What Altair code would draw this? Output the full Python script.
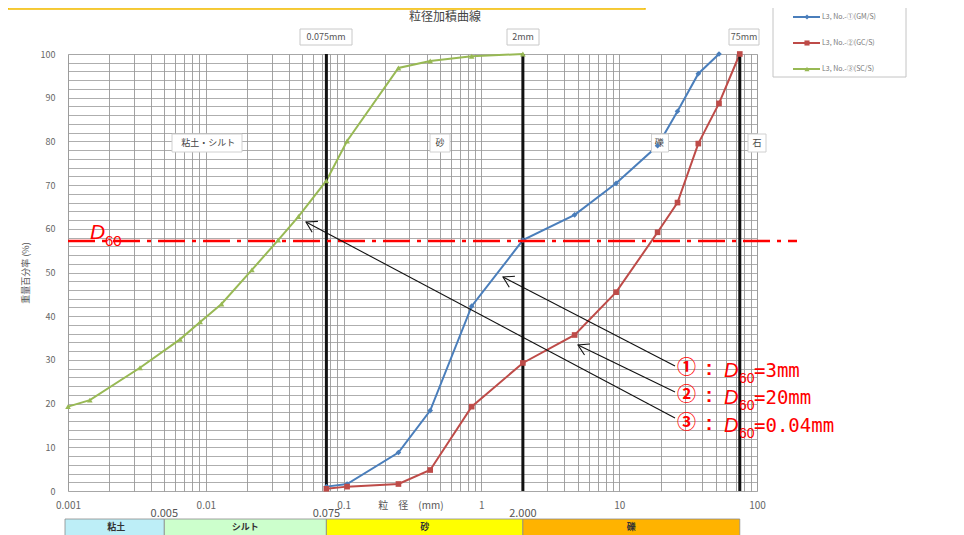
import math
import altair as alt
import pandas as pd

# ---------------- data ----------------
series_names = ["L3, No.-①(GM/S)", "L3, No.-②(GC/S)", "L3, No.-③(SC/S)"]
series_colors = ["#4a7ebb", "#be4b48", "#98b954"]
series_shapes = ["diamond", "square", "triangle-up"]

blue_size = [0.075, 0.106, 0.25, 0.425, 0.85, 2, 4.75, 9.5, 19, 26.5, 37.5, 53]
blue_pct = [1.0, 1.6, 8.8, 18.4, 42.3, 57.4, 63.2, 70.4, 79.0, 86.9, 95.5, 100]
red_size = [0.075, 0.106, 0.25, 0.425, 0.85, 2, 4.75, 9.5, 19, 26.5, 37.5, 53, 75]
red_pct = [0.5, 1.0, 1.6, 4.8, 19.3, 29.3, 35.7, 45.5, 59.2, 66.0, 79.5, 88.7, 100]
green_size = [0.001, 0.00144, 0.00333, 0.0065, 0.0091, 0.013, 0.0216, 0.0335, 0.047,
              0.075, 0.106, 0.25, 0.425, 0.85, 2]
green_pct = [19.3, 20.8, 28.2, 34.7, 38.7, 42.8, 50.6, 57.4, 62.8,
             71.0, 80.1, 96.8, 98.4, 99.5, 100]

boundary_mm = [0.075, 2, 75]
boundary_top_labels = ["0.075mm", "2mm", "75mm"]
class_names = ["粘土", "シルト", "砂", "礫"]
class_from = [0.001, 0.005, 0.075, 2]
class_to = [0.005, 0.075, 2, 75]
class_colors = ["#bdeef7", "#ccffcc", "#ffff00", "#ffb300"]
class_edge_labels = ["0.005", "0.075", "2.000"]
class_edge_mm = [0.005, 0.075, 2]
region_labels = ["粘土・シルト", "砂", "礫", "石"]
region_mm = [0.0104, 0.5, 19.5, 100]
d60_pct = 57.2
ann_nums = ["①", "②", "③"]
ann_vals = ["=3mm", "=20mm", "=0.04mm"]

# ---------------- layout helpers (annotation placement only) ----------------
PL, PT, W, H = 60, 46, 689, 437
X0 = 8 + PL
Y0 = 8 + PT + H


def px2x(px):
    return 10 ** ((px - X0) / W * 5 - 3)


def px2y(py):
    return (Y0 - py) / H * 100


XS = alt.Scale(type="log", domain=[0.001, 100], nice=False)
YS = alt.Scale(domain=[0, 100], nice=False, zero=False)
FONT = "Noto Sans CJK JP"

xgrid = []
for e in range(-3, 2):
    for i in range(1, 10):
        xgrid.append(round(i * 10 ** e, 6))
xgrid.append(100)
ygrid = list(range(0, 101, 2))

AX = alt.Axis(
    values=xgrid, grid=True, gridColor="#8c8c8c", gridWidth=0.8, ticks=False, domain=False,
    labelExpr="abs(log(datum.value)/LN10 - round(log(datum.value)/LN10)) < 0.001 ? format(datum.value, '~g') : ''",
    labelFontSize=10, labelColor="#666", labelPadding=9, labelFont=FONT,
    labelOverlap=False, labelFlush=False, title=None)
AY = alt.Axis(
    values=ygrid, grid=True, gridColor="#999999", gridWidth=0.8, ticks=False, domain=False,
    labelExpr="datum.value % 10 == 0 ? datum.label : ''",
    labelFontSize=9, labelColor="#666", labelPadding=13, labelFont=FONT, labelOverlap=False,
    title="重量百分率 (%)", titleFont=FONT, titleFontSize=9, titleColor="#555",
    titleFontWeight="normal", titlePadding=10)


def ex(f="x"):
    return alt.X(f"{f}:Q", scale=XS, axis=AX)


def ey(f="y"):
    return alt.Y(f"{f}:Q", scale=YS, axis=AY)


# ---------------- main data ----------------
rows = []
for nm, xs, ys in zip(series_names, [blue_size, red_size, green_size], [blue_pct, red_pct, green_pct]):
    for a, b in zip(xs, ys):
        rows.append({"x": a, "y": b, "s": nm})
df = pd.DataFrame(rows)

color = alt.Color("s:N", scale=alt.Scale(domain=series_names, range=series_colors), legend=None)
shape = alt.Shape("s:N", scale=alt.Scale(domain=series_names, range=series_shapes), legend=None)

lines = alt.Chart(df).mark_line(strokeWidth=2).encode(x=ex(), y=ey(), color=color, detail="s:N")
points = alt.Chart(df).mark_point(filled=True, size=32, opacity=1).encode(
    x=ex(), y=ey(), color=color, shape=shape)

# thick boundary lines
bdf = pd.DataFrame({"x": boundary_mm, "y": [0] * 3, "y2": [100] * 3, "t": boundary_top_labels})
brules = alt.Chart(bdf).mark_rule(color="#111", strokeWidth=3).encode(x=ex(), y=ey(), y2="y2:Q")

# top boundary label boxes
box_c = [326, 523, 744]
box_w = [52, 32, 30]
tb = pd.DataFrame({
    "x": [px2x(c - w / 2) for c, w in zip(box_c, box_w)],
    "x2": [px2x(c + w / 2) for c, w in zip(box_c, box_w)],
    "y": [px2y(29)] * 3, "y2": [px2y(45)] * 3,
    "xc": [px2x(c) for c in box_c], "yc": [px2y(37)] * 3, "t": boundary_top_labels})
tbox = alt.Chart(tb).mark_rect(fill="white", stroke="#c8c8c8", strokeWidth=1).encode(
    x=ex(), x2="x2:Q", y=ey(), y2="y2:Q")
ttxt = alt.Chart(tb).mark_text(font=FONT, fontSize=9, color="#555", baseline="middle").encode(
    x=ex("xc"), y=ey("yc"), text="t:N")

# region label boxes inside plot
reg_c = [207, 440, 660, 757]
reg_w = [70, 20, 17, 18]
rg = pd.DataFrame({
    "x": [px2x(c - w / 2) for c, w in zip(reg_c, reg_w)],
    "x2": [px2x(c + w / 2) for c, w in zip(reg_c, reg_w)],
    "y": [px2y(134)] * 4, "y2": [px2y(152)] * 4,
    "xc": region_mm, "yc": [px2y(143)] * 4, "t": region_labels})
rbox = alt.Chart(rg).mark_rect(fill="white", stroke="#d0d0d0", strokeWidth=1).encode(
    x=ex(), x2="x2:Q", y=ey(), y2="y2:Q")
rtxt = alt.Chart(rg).mark_text(font=FONT, fontSize=9, color="#444", baseline="middle").encode(
    x=ex("xc"), y=ey("yc"), text="t:N")

# title
title = alt.Chart(pd.DataFrame({"x": [px2x(445)], "y": [px2y(17)], "t": ["粒径加積曲線"]})).mark_text(
    font=FONT, fontSize=12, color="#444", baseline="middle").encode(x=ex(), y=ey(), text="t:N")

# yellow note strip at the very top
ystrip = alt.Chart(pd.DataFrame({"x": [px2x(8)], "x2": [px2x(645)], "y": [px2y(-4)], "y2": [px2y(9)]})).mark_rect(
    fill="#fff7c2", stroke="#f2bb00", strokeWidth=1.5).encode(x=ex(), x2="x2:Q", y=ey(), y2="y2:Q")

# class bar
cdf = pd.DataFrame({"x": [px2x(65)] + class_from[1:], "x2": class_to, "y": [px2y(519)] * 4,
                    "y2": [px2y(548)] * 4, "c": class_colors, "t": class_names,
                    "xc": [10 ** ((math.log10(max(a, px2x(65))) + math.log10(b)) / 2) for a, b in zip(class_from, class_to)],
                    "yc": [px2y(527)] * 4})
cbar = alt.Chart(cdf).mark_rect(stroke="#8a8a8a", strokeWidth=0.8).encode(
    x=ex(), x2="x2:Q", y=ey(), y2="y2:Q", fill=alt.Fill("c:N", scale=None))
ctxt = alt.Chart(cdf).mark_text(font=FONT, fontSize=9, fontWeight="bold", color="#333", baseline="middle").encode(
    x=ex("xc"), y=ey("yc"), text="t:N")
edf = pd.DataFrame({"x": class_edge_mm, "y": [px2y(514)] * 3, "t": class_edge_labels})
etxt = alt.Chart(edf).mark_text(font=FONT, fontSize=11, color="#555", baseline="middle").encode(
    x=ex(), y=ey(), text="t:N")

# x-axis title
xt = alt.Chart(pd.DataFrame({"x": [px2x(411)], "y": [px2y(506)], "t": ["粒　径　(mm)"]})).mark_text(
    font=FONT, fontSize=10, color="#555", baseline="middle").encode(x=ex(), y=ey(), text="t:N")

# D60 line + label
RED = "#ff0000"
d60 = alt.Chart(pd.DataFrame({"x": [0.001], "x2": [px2x(797)], "y": [d60_pct]})).mark_rule(
    color=RED, strokeWidth=2.5, strokeDash=[27, 7, 4, 7]).encode(x=ex(), x2="x2:Q", y=ey())
dlab = pd.DataFrame({"x": [px2x(90)], "y": [px2y(239)]})
dD = alt.Chart(dlab).mark_text(text="D", font="Liberation Sans", fontStyle="italic", fontSize=21,
                               color=RED, align="left", baseline="alphabetic").encode(x=ex(), y=ey())
d6 = alt.Chart(dlab).mark_text(text="60", font="Liberation Sans", fontSize=15, color=RED,
                               align="left", baseline="alphabetic", dx=15, dy=7).encode(x=ex(), y=ey())

# arrows
heads = [(503, 277), (578, 345), (306, 222)]
tails = [(675, 366), (675, 392), (675, 418)]
adf = pd.DataFrame({
    "x": [px2x(h[0]) for h in heads], "y": [px2y(h[1]) for h in heads],
    "x2": [px2x(t[0]) for t in tails], "y2": [px2y(t[1]) for t in tails],
    "ang": [math.degrees(math.atan2(h[1] - t[1], h[0] - t[0])) % 360 for h, t in zip(heads, tails)]})
arules = alt.Chart(adf).mark_rule(color="#111", strokeWidth=1.1).encode(x=ex(), y=ey(), x2="x2:Q", y2="y2:Q")
aheads = alt.Chart(adf).mark_point(shape="M-1,-0.6L0,0L-1,0.6", filled=False, stroke="#111",
                                   strokeWidth=1.1, size=420, opacity=1).encode(
    x=ex(), y=ey(), angle=alt.Angle("ang:Q", scale=None))

# annotation texts
ann_cy = [368, 395, 423]
andf = pd.DataFrame({"x": [px2x(677)] * 3, "y": [px2y(c) for c in ann_cy], "n": ann_nums, "v": ann_vals})
a1 = alt.Chart(andf).mark_text(font=FONT, fontSize=19, fontWeight="bold", color=RED, align="left",
                               baseline="middle").encode(x=ex(), y=ey(), text="n:N")
a2 = alt.Chart(andf).mark_text(text=":", font="Liberation Sans", fontSize=20, fontWeight="bold", color=RED,
                               align="center", baseline="alphabetic", dx=32, dy=7).encode(x=ex(), y=ey())
a3 = alt.Chart(andf).mark_text(text="D", font="Liberation Sans", fontStyle="italic", fontSize=20, color=RED,
                               align="left", baseline="alphabetic", dx=47, dy=9).encode(x=ex(), y=ey())
a4 = alt.Chart(andf).mark_text(text="60", font="Liberation Sans", fontSize=14, color=RED,
                               align="left", baseline="alphabetic", dx=62, dy=15).encode(x=ex(), y=ey())
a5 = alt.Chart(andf).mark_text(font="DejaVu Sans Mono", fontSize=19, color=RED, align="left",
                               baseline="alphabetic", dx=77, dy=9).encode(x=ex(), y=ey(), text="v:N")

# custom legend
leg_y = [17, 43, 69]
lbox = alt.Chart(pd.DataFrame({"x": [px2x(773)], "x2": [px2x(906)], "y": [px2y(6)], "y2": [px2y(77)]})).mark_rect(
    fill="white", stroke="#c4c4c4", strokeWidth=1).encode(x=ex(), x2="x2:Q", y=ey(), y2="y2:Q")
ldf = pd.DataFrame({"x": [px2x(793)] * 3, "x2": [px2x(820)] * 3, "xm": [px2x(807)] * 3,
                    "xt": [px2x(822)] * 3, "y": [px2y(v) for v in leg_y], "s": series_names})
lrule = alt.Chart(ldf).mark_rule(strokeWidth=2).encode(x=ex(), x2="x2:Q", y=ey(), color=color)
lpt = alt.Chart(ldf).mark_point(filled=True, size=26, opacity=1).encode(x=ex("xm"), y=ey(), color=color, shape=shape)
ltxt = alt.Chart(ldf).mark_text(font=FONT, fontSize=7, color="#777", align="left", baseline="middle").encode(
    x=ex("xt"), y=ey(), text="s:N")

chart = alt.layer(
    lines, ystrip, cbar, ctxt, etxt, xt, title, tbox, ttxt, brules, rbox, rtxt,
    points, d60, dD, d6, arules, aheads, a1, a2, a3, a4, a5, lbox, lrule, lpt, ltxt
).properties(
    width=W, height=H,
    autosize=alt.AutoSizeParams(type="none"),
    padding={"left": PL, "top": PT, "right": 190, "bottom": 52},
).configure_view(stroke="#333", strokeWidth=1.5).configure(background="white")

chart.save("out.html", embed_options={"renderer": "svg", "actions": False})
